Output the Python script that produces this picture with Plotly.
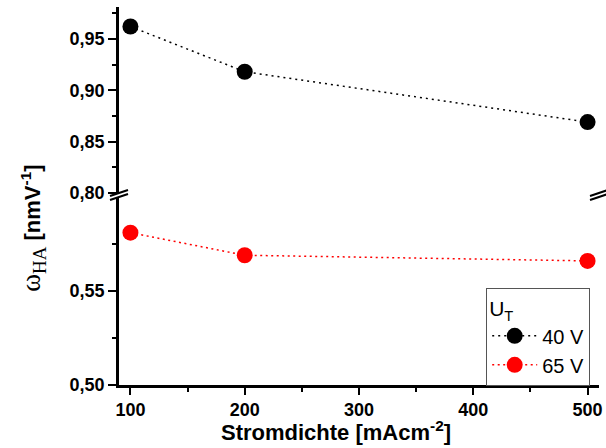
import plotly.graph_objects as go

# ---- data ----
stromdichte = [100, 200, 500]
omega_40V = [0.962, 0.918, 0.869]
omega_65V = [0.581, 0.569, 0.566]
series_names = ["40 V", "65 V"]

x_tickvals = [100, 200, 300, 400, 500]
x_ticktext = ["100", "200", "300", "400", "500"]
x_minor = [150, 250, 350, 450]

y_low_tickvals = [0.50, 0.55]
y_low_ticktext = ["0,50", "0,55"]
y_low_minor = [0.525, 0.575]

y_up_tickvals = [0.80, 0.85, 0.90, 0.95]
y_up_ticktext = ["0,80", "0,85", "0,90", "0,95"]
y_up_minor = [0.825, 0.875, 0.925, 0.975]

FONT = "Liberation Sans, Arial, sans-serif"
LOW_DOM = [0.0, 0.495]
UP_DOM = [0.508, 1.0]
XR = [90, 510]
YR_LOW = [0.5, 0.5995]
YR_UP = [0.80, 0.981]

fig = go.Figure()
fig.add_trace(go.Scatter(
    x=stromdichte, y=omega_40V, name=series_names[0], xaxis="x", yaxis="y2",
    mode="lines+markers",
    line=dict(color="black", width=1.5, dash="2px,4px"),
    marker=dict(color="black", size=16, symbol="circle"),
))
fig.add_trace(go.Scatter(
    x=stromdichte, y=omega_65V, name=series_names[1], xaxis="x", yaxis="y",
    mode="lines+markers",
    line=dict(color="red", width=1.5, dash="2px,3.5px"),
    marker=dict(color="red", size=16, symbol="circle"),
))

axis_line = dict(showline=True, linecolor="black", linewidth=2.5, showgrid=False, zeroline=False)
tickfont = dict(family=FONT, size=18, color="black", weight="bold")

fig.update_layout(
    width=606, height=448,
    margin=dict(l=119, r=3, t=7, b=63),
    paper_bgcolor="white", plot_bgcolor="white",
    xaxis=dict(
        range=XR, anchor="y", tickmode="array", tickvals=x_tickvals, ticktext=x_ticktext,
        ticks="outside", ticklen=7, tickwidth=2, tickcolor="black", tickfont=tickfont,
        ticklabeloverflow="allow",
        minor=dict(tickmode="array", tickvals=x_minor, ticks="outside", ticklen=4, tickwidth=2, tickcolor="black"),
        **axis_line,
    ),
    xaxis2=dict(
        range=XR, anchor="y2", overlaying="x", side="top", tickmode="array", tickvals=x_tickvals,
        showticklabels=False, ticks="inside", ticklen=6, tickwidth=2, tickcolor="black",
        minor=dict(tickmode="array", tickvals=x_minor, ticks="inside", ticklen=4, tickwidth=2, tickcolor="black"),
        **axis_line,
    ),
    yaxis=dict(
        domain=LOW_DOM, range=YR_LOW, anchor="x", tickmode="array",
        tickvals=y_low_tickvals, ticktext=y_low_ticktext,
        ticks="outside", ticklen=8, tickwidth=2, tickcolor="black", tickfont=tickfont,
        minor=dict(tickmode="array", tickvals=y_low_minor, ticks="outside", ticklen=4, tickwidth=2, tickcolor="black"),
        **axis_line,
    ),
    yaxis2=dict(
        domain=UP_DOM, range=YR_UP, anchor="x", tickmode="array",
        tickvals=y_up_tickvals, ticktext=y_up_ticktext,
        ticks="outside", ticklen=8, tickwidth=2, tickcolor="black", tickfont=tickfont,
        minor=dict(tickmode="array", tickvals=y_up_minor, ticks="outside", ticklen=4, tickwidth=2, tickcolor="black"),
        **axis_line,
    ),
    yaxis3=dict(
        range=YR_LOW, overlaying="y", side="right", anchor="x", tickmode="array",
        tickvals=y_low_tickvals, showticklabels=False,
        ticks="inside", ticklen=7, tickwidth=2, tickcolor="black",
        minor=dict(tickmode="array", tickvals=y_low_minor, ticks="inside", ticklen=7, tickwidth=2, tickcolor="black"),
        **axis_line,
    ),
    yaxis4=dict(
        range=YR_UP, overlaying="y2", side="right", anchor="x", tickmode="array",
        tickvals=y_up_tickvals, showticklabels=False,
        ticks="inside", ticklen=7, tickwidth=2, tickcolor="black",
        minor=dict(tickmode="array", tickvals=y_up_minor, ticks="inside", ticklen=7, tickwidth=2, tickcolor="black"),
        **axis_line,
    ),
    showlegend=True,
    legend=dict(
        x=0.765, y=0.2566, xanchor="left", yanchor="top",
        bgcolor="white", bordercolor="#555555", borderwidth=1,
        font=dict(family=FONT, size=20, color="black"),
        title=dict(text="U<sub>T</sub>", font=dict(family=FONT, size=21, color="black")),
        itemwidth=45, tracegroupgap=0,
    ),
    annotations=[
        dict(
            text="<span style='font-family:Liberation Serif, Times New Roman, serif;font-size:27px'>ω<sub>HA</sub></span>"
                 " <b>[nmV<sup>-1</sup>]</b>",
            xref="paper", yref="paper", x=-0.178, y=0.415, xanchor="center", yanchor="middle",
            textangle=-90, showarrow=False, font=dict(family=FONT, size=22, color="black"),
        ),
        dict(
            text="<b>Stromdichte [mAcm<sup>-2</sup>]</b>",
            xref="paper", yref="paper", x=0.4525, y=-0.121, xanchor="center", yanchor="middle",
            showarrow=False, font=dict(family=FONT, size=22, color="black"),
        ),
    ],
)

# axis-break marks on the left and right axes
shapes = []
for xa in (0, 1):
    for dy in (0, -4):
        shapes.append(dict(
            type="line", xref="paper", yref="paper", xsizemode="pixel", ysizemode="pixel",
            xanchor=xa, yanchor=0.5, x0=-9, x1=9, y0=dy, y1=dy + 6,
            line=dict(color="black", width=2), layer="above",
        ))
fig.update_layout(shapes=shapes)

fig.write_html(
    "out.html",
    config={"displayModeBar": False},
    post_script="document.body.style.margin='0px';document.body.style.overflow='hidden';",
)
